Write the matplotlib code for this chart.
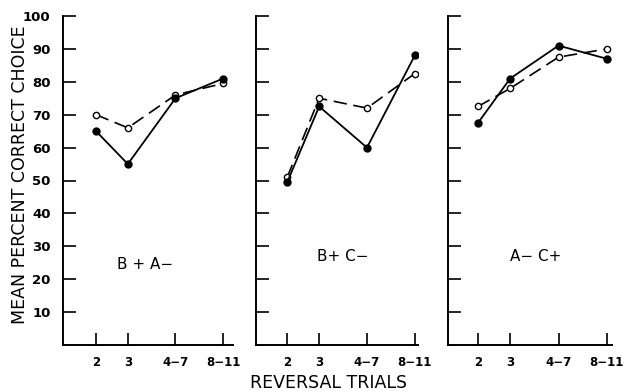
import matplotlib
matplotlib.use("Agg")
import matplotlib.pyplot as plt

# Data
x_labels = ["2", "3", "4\u22127", "8\u221211"]
x_pos = [2, 3, 4.5, 6]
panel_names = ["B + A\u2212", "B+ C\u2212", "A\u2212 C+"]
solid_vals = [
    [65, 55, 75, 81],
    [49.5, 72.5, 60, 88],
    [67.5, 81, 91, 87],
]
open_vals = [
    [70, 66, 76, 79.5],
    [51, 75, 72, 82.5],
    [72.5, 78, 87.5, 90],
]
y_ticks = [10, 20, 30, 40, 50, 60, 70, 80, 90, 100]

W, H = 624, 392
fig = plt.figure(figsize=(W / 100, H / 100), dpi=100)

# axes geometry in pixels: (left, right, xmin, xmax)
geo = [(63, 233, 0.96, 6.31), (256, 418, 1.02, 6.1), (448, 612, 1.07, 6.16)]
top_px, bot_px = 16, 345
label_pos = [(3.55, 24.5), (3.75, 27), (3.8, 27)]

for i, (l, r, xmin, xmax) in enumerate(geo):
    ax = fig.add_axes([l / W, 1 - bot_px / H, (r - l) / W, (bot_px - top_px) / H])
    ax.set_xlim(xmin, xmax)
    ax.set_ylim(0, 100)
    for s in ["top", "right"]:
        ax.spines[s].set_visible(False)
    for s in ["left", "bottom"]:
        ax.spines[s].set_linewidth(1.4)
    ax.set_yticks(y_ticks)
    ax.set_xticks(x_pos)
    ax.set_xticklabels(x_labels, fontsize=8.5, fontweight="bold")
    if i == 0:
        ax.set_yticklabels([str(v) for v in y_ticks], fontsize=9.5, fontweight="bold")
    else:
        ax.set_yticklabels([])
    ax.tick_params(axis="y", direction="in", length=9, width=1.2, pad=9)
    ax.tick_params(axis="x", direction="in", length=9, width=1.2, pad=8)
    ax.plot(x_pos, open_vals[i], color="black", lw=1.2, dashes=(8, 4),
            marker="o", markersize=4.5, markerfacecolor="white",
            markeredgecolor="black", markeredgewidth=1.0, zorder=3)
    ax.plot(x_pos, solid_vals[i], color="black", lw=1.3,
            marker="o", markersize=5, markerfacecolor="black",
            markeredgecolor="black", zorder=4)
    ax.text(label_pos[i][0], label_pos[i][1], panel_names[i], fontsize=11,
            ha="center", va="center")
    ax.set_facecolor("none")

fig.text(20 / W, 1 - 175 / H, "MEAN PERCENT CORRECT CHOICE", rotation=90,
         fontsize=12.5, ha="center", va="center")
fig.text(328 / W, 1 - 383 / H, "REVERSAL TRIALS", fontsize=12.5,
         ha="center", va="center")

fig.savefig("out.png", dpi=100)
